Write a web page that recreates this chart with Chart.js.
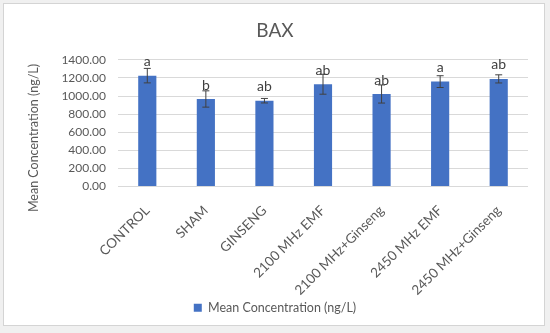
<!DOCTYPE html>
<html>
<head>
<meta charset="utf-8">
<script src="https://cdn.jsdelivr.net/npm/chart.js@4"></script>
<style>
  html, body { margin: 0; padding: 0; background: #f0f0f0; }
  #box {
    position: absolute; left: 3px; top: 3px;
    width: 540px; height: 321px;
    background: #fff; border: 1px solid #d4d4d4;
  }
  canvas { display: block; }
</style>
</head>
<body>
<div id="box"><canvas id="chart" width="540" height="321"></canvas></div>
<script>
// == Data ==
const categories = ["CONTROL", "SHAM", "GINSENG", "2100 MHz EMF", "2100 MHz+Ginseng", "2450 MHz EMF", "2450 MHz+Ginseng"];
const means = [1225, 967, 948, 1130, 1022, 1159, 1189];
const errors = [80, 90, 25, 110, 100, 65, 45];
const letters = ["a", "b", "ab", "ab", "ab", "a", "ab"];
const yTicks = [0, 200, 400, 600, 800, 1000, 1200, 1400];
const yTitle = "Mean Concentration (ng/L)";

const textColor = "#595959";
const fontFamily = "Lato, 'Open Sans', sans-serif";

// == Error bars, significance letters, y title ==
const errorBarPlugin = {
  id: "errorBars",
  afterDatasetsDraw(chart) {
    const ctx = chart.ctx;
    const yScale = chart.scales.y;
    const meta = chart.getDatasetMeta(0);
    ctx.save();
    meta.data.forEach((bar, i) => {
      const x = bar.x;
      const top = yScale.getPixelForValue(means[i] + errors[i]);
      const bottom = yScale.getPixelForValue(means[i] - errors[i]);
      ctx.strokeStyle = "#404040";
      ctx.lineWidth = 1;
      ctx.beginPath();
      ctx.moveTo(x, top);
      ctx.lineTo(x, bottom);
      ctx.moveTo(x - 3.5, top);
      ctx.lineTo(x + 3.5, top);
      ctx.moveTo(x - 3.5, bottom);
      ctx.lineTo(x + 3.5, bottom);
      ctx.stroke();

      ctx.fillStyle = "#404040";
      ctx.font = "14px " + fontFamily;
      ctx.textAlign = "center";
      ctx.textBaseline = "middle";
      ctx.fillText(letters[i], x, bar.y - 14);
    });

    // y axis title, sits a little below the plot centre like the original
    ctx.translate(30, 134);
    ctx.rotate(-Math.PI / 2);
    ctx.fillStyle = textColor;
    ctx.font = "12.5px " + fontFamily;
    ctx.textAlign = "center";
    ctx.textBaseline = "middle";
    ctx.fillText(yTitle, 0, 0);
    ctx.restore();
  }
};

// == Chart ==
new Chart(document.getElementById("chart"), {
  type: "bar",
  data: {
    labels: categories,
    datasets: [{
      label: "Mean Concentration (ng/L)",
      data: means,
      backgroundColor: "#4472C4",
      barPercentage: 0.31,
      categoryPercentage: 1
    }]
  },
  options: {
    responsive: false,
    animation: false,
    layout: { padding: { left: 18, right: 16, top: 0, bottom: 1 } },
    plugins: {
      title: {
        display: true,
        text: "BAX",
        color: textColor,
        font: { family: fontFamily, size: 19, weight: "normal" },
        padding: { top: 15, bottom: 18 }
      },
      legend: {
        position: "bottom",
        labels: {
          color: textColor,
          font: { family: fontFamily, size: 12.5 },
          boxWidth: 8,
          boxHeight: 8,
          padding: 6
        }
      },
      tooltip: { enabled: false }
    },
    scales: {
      x: {
        grid: { display: false },
        border: { display: false },
        ticks: {
          color: textColor,
          font: { family: fontFamily, size: 13.5 },
          minRotation: 45,
          maxRotation: 45,
          autoSkip: false,
          padding: 8
        },
        afterFit(scale) { scale.height = 109; }
      },
      y: {
        min: 0,
        max: 1400,
        afterBuildTicks(scale) { scale.ticks = yTicks.map(v => ({ value: v })); },
        grid: { color: "#d9d9d9", drawTicks: false },
        border: { display: false },
        ticks: {
          color: textColor,
          font: { family: fontFamily, size: 12 },
          padding: 12,
          autoSkip: false,
          callback: v => v.toFixed(2)
        },
        afterFit(scale) { scale.width = 96; }
      }
    }
  },
  plugins: [errorBarPlugin]
});
</script>
</body>
</html>
